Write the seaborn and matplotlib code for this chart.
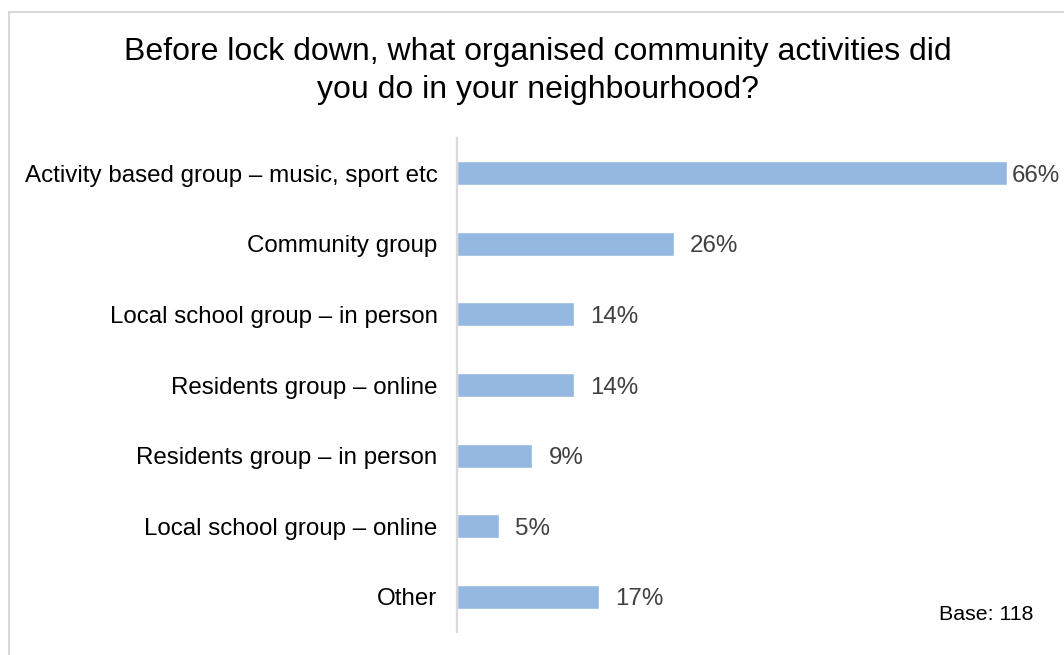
import matplotlib
matplotlib.use("Agg")
import matplotlib.pyplot as plt
from matplotlib.patches import Rectangle
import seaborn as sns
import pandas as pd

categories = [
    "Activity based group \u2013 music, sport etc",
    "Community group",
    "Local school group \u2013 in person",
    "Residents group \u2013 online",
    "Residents group \u2013 in person",
    "Local school group \u2013 online",
    "Other",
]
percentages = [66, 26, 14, 14, 9, 5, 17]
title_text = "Before lock down, what organised community activities did\nyou do in your neighbourhood?"
base_text = "Base: 118"

df = pd.DataFrame({"activity": categories, "pct": percentages})

sns.set_theme(style="white")
plt.rcParams["font.family"] = ["Liberation Sans", "DejaVu Sans"]

fig = plt.figure(figsize=(10.64, 6.55), dpi=100)
ax = fig.add_axes([457 / 1064, 1 - 632 / 655, (1040 - 457) / 1064, (632 - 138) / 655])

sns.barplot(data=df, x="pct", y="activity", color="#95B8E0", width=0.34,
            saturation=1, ax=ax, orient="h")

ax.set_xlim(0, 70)
ax.set_xlabel("")
ax.set_ylabel("")
ax.set_xticks([])
ax.tick_params(axis="y", length=0, pad=14, labelsize=17.4, labelcolor="black")
for side in ("top", "right", "bottom"):
    ax.spines[side].set_visible(False)
ax.spines["left"].set_color("#D9D9D9")
ax.spines["left"].set_linewidth(1.6)

# value labels just past each bar end; the longest bar gets a tighter gap
vmax = max(percentages)
for patch, v in zip(ax.patches, percentages):
    y = patch.get_y() + patch.get_height() / 2
    pad = 3.6 if v == vmax else 12
    ax.annotate(f"{v}%", xy=(patch.get_width(), y), xytext=(pad, 0),
                textcoords="offset points", va="center_baseline", ha="left",
                fontsize=17.4, color="#404040", annotation_clip=False)

fig.text(538 / 1064, 1 - 71 / 655, title_text, ha="center", va="center",
         fontsize=23, color="black", linespacing=1.31)
fig.text(1033 / 1064, 1 - 615 / 655, base_text, ha="right", va="center",
         fontsize=15.4, color="black")

# light outer frame of the chart area
fig.patches.append(Rectangle((8.5 / 1064, -0.1), 1.2, 1 - 12 / 655 + 0.1,
                             transform=fig.transFigure, fill=False,
                             edgecolor="#D9D9D9", linewidth=1.5, zorder=0))

fig.savefig("out.png", dpi=100, facecolor="white")
